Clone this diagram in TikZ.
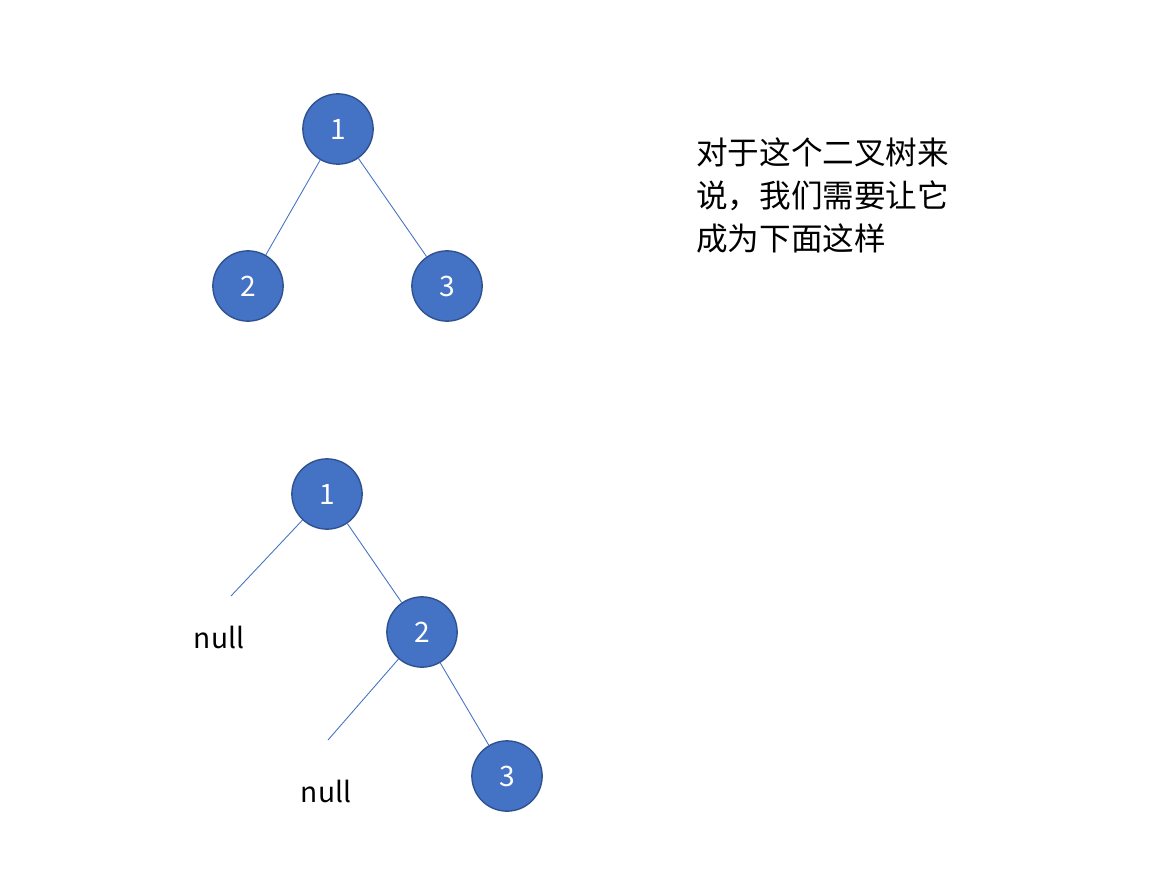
\documentclass[tikz,border=0pt]{standalone}
\usepackage{fontspec}
\setmainfont{Noto Sans CJK SC}
\usetikzlibrary{positioning}
\definecolor{nodeblue}{RGB}{68,114,196}
\definecolor{rimblue}{RGB}{47,82,143}
\tikzset{
	treenode/.style={circle, draw=rimblue, fill=nodeblue, line width=0.8pt, minimum size=40pt, inner sep=0pt, text=white, font=\fontsize{16}{18}\selectfont},
	treeedge/.style={nodeblue, line width=0.5pt},
	nulltext/.style={font=\fontsize{16}{18}\selectfont}
}
\begin{document}
\begin{tikzpicture}[x=0.02cm, y=-0.02cm]
	\useasboundingbox (0,0) rectangle (1165,892);
	% first tree
	\node[treenode] (a1) at (338,129) {1};
	\node[treenode] (a2) at (248,286) {2};
	\node[treenode] (a3) at (447,286) {3};
	\draw[treeedge] (a1) -- (a2);
	\draw[treeedge] (a1) -- (a3);

	\node[anchor=north west, align=left, font=\fontsize{18}{24.4}\selectfont] (note) at (690,132) {对于这个二叉树来\\说，我们需要让它\\成为下面这样};

	% second tree
	\node[treenode] (b1) at (327,494) {1};
	\node[treenode] (b2) at (422,632) {2};
	\node[treenode] (b3) at (507,776) {3};
	\coordinate (n1) at (231,596);
	\coordinate (n2) at (328,740);
	\node[nulltext] (null1) at (219,637) {null};
	\node[nulltext] (null2) at (326,791) {null};
	\draw[treeedge] (b1) -- (n1);
	\draw[treeedge] (b1) -- (b2);
	\draw[treeedge] (b2) -- (n2);
	\draw[treeedge] (b2) -- (b3);
\end{tikzpicture}
\end{document}
